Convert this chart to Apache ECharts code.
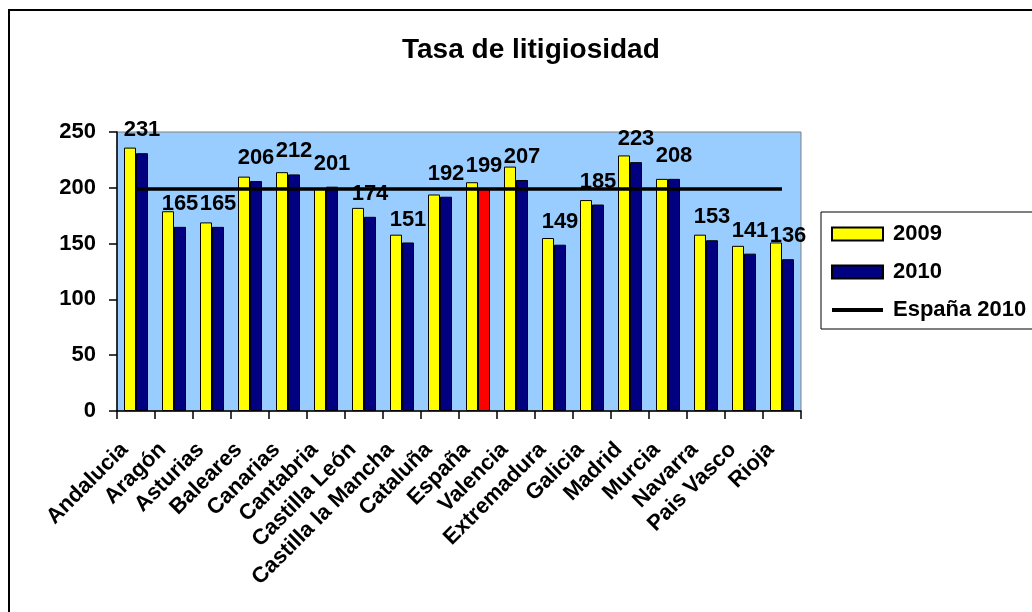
<!DOCTYPE html>
<html>
<head>
<meta charset="utf-8">
<script src="https://cdn.jsdelivr.net/npm/echarts@6/dist/echarts.min.js"></script>
<style>
  html, body { margin: 0; padding: 0; background: #fff; }
  #main { width: 1032px; height: 612px; }
</style>
</head>
<body>
<div id="main"></div>
<script>
// datos
const regiones = ['Andalucia', 'Aragón', 'Asturias', 'Baleares', 'Canarias', 'Cantabria',
  'Castilla León', 'Castilla la Mancha', 'Cataluña', 'España', 'Valencia', 'Extremadura',
  'Galicia', 'Madrid', 'Murcia', 'Navarra', 'Pais Vasco', 'Rioja']
const tasa2009 = [236, 179, 169, 210, 214, 199, 182, 158, 194, 205, 219, 155, 189, 229, 208, 158, 148, 151]
const tasa2010 = [231, 165, 165, 206, 212, 201, 174, 151, 192, 199, 207, 149, 185, 223, 208, 153, 141, 136]
const espana2010 = 199
const yTicks = [0, 50, 100, 150, 200, 250]

const FONT = 'Liberation Sans'

const chartDom = document.getElementById('main')
const myChart = echarts.init(chartDom)

const option = {
  animation: false,
  textStyle: { fontFamily: FONT },
  graphic: [
    {
      type: 'rect',
      shape: { x: 9, y: 10, width: 1100, height: 700 },
      style: { fill: 'none', stroke: '#000', lineWidth: 2 },
      z: -10
    }
  ],
  title: {
    text: 'Tasa de litigiosidad',
    left: 397,
    top: 31,
    textStyle: { fontFamily: FONT, fontSize: 28, fontWeight: 'bold', color: '#000' }
  },
  legend: {
    orient: 'vertical',
    left: 821,
    top: 212,
    padding: [11, 40, 8, 9],
    itemWidth: 51,
    itemHeight: 13,
    itemGap: 16,
    backgroundColor: '#fff',
    borderColor: '#000',
    borderWidth: 1,
    borderRadius: 0,
    textStyle: { fontFamily: FONT, fontSize: 22, fontWeight: 'bold', color: '#000', padding: [0, 0, 0, 5] },
    data: [
      { name: '2009', icon: 'rect' },
      { name: '2010', icon: 'rect' },
      { name: 'España 2010', itemStyle: { opacity: 0 }, lineStyle: { width: 4, color: '#000' } }
    ]
  },
  grid: {
    left: 117,
    right: 231,
    top: 132,
    bottom: 201,
    show: true,
    backgroundColor: '#99CCFF',
    borderColor: '#808080',
    borderWidth: 1
  },
  xAxis: {
    type: 'category',
    data: regiones,
    axisLine: { lineStyle: { color: '#000', width: 1.5 } },
    axisTick: { show: true, alignWithLabel: false, length: 8, lineStyle: { color: '#000', width: 1.5 } },
    axisLabel: {
      interval: 0,
      rotate: 45,
      margin: 24,
      padding: [0, 16, 0, 0],
      fontFamily: FONT,
      fontSize: 22,
      fontWeight: 'bold',
      color: '#000'
    }
  },
  yAxis: {
    type: 'value',
    min: yTicks[0],
    max: yTicks[yTicks.length - 1],
    interval: 50,
    splitLine: { show: false },
    axisLine: { show: true, lineStyle: { color: '#000', width: 1.5 } },
    axisTick: { show: true, length: 8, lineStyle: { color: '#000', width: 1.5 } },
    axisLabel: {
      margin: 21,
      fontFamily: FONT,
      fontSize: 22,
      fontWeight: 'bold',
      color: '#000'
    }
  },
  series: [
    {
      name: '2009',
      type: 'bar',
      data: tasa2009,
      barWidth: 12,
      barGap: '0%',
      itemStyle: { color: '#FFFF00', borderColor: '#000', borderWidth: 1 }
    },
    {
      name: '2010',
      type: 'bar',
      data: tasa2010.map((v, i) => regiones[i] === 'España'
        ? { value: v, itemStyle: { color: '#FF0000' } }
        : v),
      barWidth: 12,
      barGap: '0%',
      itemStyle: { color: '#000080', borderColor: '#000', borderWidth: 1 },
      label: {
        show: true,
        position: 'top',
        distance: 12,
        fontFamily: FONT,
        fontSize: 22,
        fontWeight: 'bold',
        color: '#000'
      }
    },
    {
      name: 'España 2010',
      type: 'line',
      data: regiones.map(() => espana2010),
      symbol: 'none',
      lineStyle: { color: '#000', width: 3.5 },
      itemStyle: { color: '#000' },
      z: 5
    }
  ]
}
myChart.setOption(option)
</script>
</body>
</html>
